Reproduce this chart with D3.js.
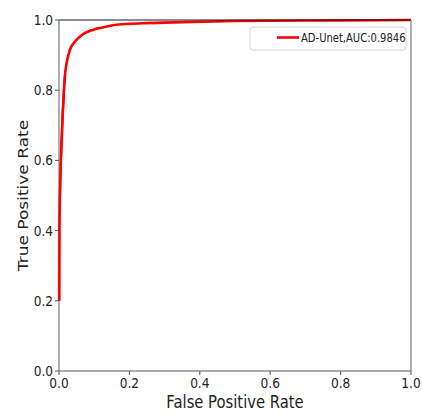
<!DOCTYPE html>
<html><head><meta charset="utf-8">
<script src="https://cdn.jsdelivr.net/npm/d3@7"></script>
<style>body{margin:0;background:#fff}svg{display:block}text{font-family:"DejaVu Sans",sans-serif;fill:#222}</style>
</head><body><svg id="c" width="422" height="417"></svg>
<script>
const fpr = [0, 0.0005, 0.001, 0.002, 0.003, 0.006, 0.01, 0.014, 0.017, 0.022, 0.031, 0.045, 0.06, 0.074, 0.09, 0.102, 0.12, 0.153, 0.2, 0.25, 0.35, 0.5, 0.6, 0.8, 1.0];
const tpr = [0, 0.2, 0.4, 0.47, 0.52, 0.62, 0.72, 0.80, 0.843, 0.88, 0.915, 0.938, 0.953, 0.963, 0.97, 0.974, 0.978, 0.985, 0.989, 0.991, 0.994, 0.997, 0.998, 0.999, 1.0];
const xTicks = [0, 0.2, 0.4, 0.6, 0.8, 1.0];
const yTicks = [0, 0.2, 0.4, 0.6, 0.8, 1.0];
const seriesName = "AD-Unet,AUC:0.9846";
const xTitle = "False Positive Rate", yTitle = "True Positive Rate";

const L = 59, R = 411, T = 20, B = 371, SX = 0.87;
const svg = d3.select("#c");
const x = d3.scaleLinear().domain([0, 1]).range([L, R]);
const y = d3.scaleLinear().domain([0, 1]).range([B, T]);
const pts = fpr.map((f, i) => [f, tpr[i]]).filter(d => d[1] > 0.05 || d[0] > 0);
const dpts = fpr.map((f, i) => [f, tpr[i]]).slice(1);

// curve
svg.append("path").datum(dpts)
  .attr("fill", "none").attr("stroke", "#ff0000").attr("stroke-width", 2.6)
  .attr("stroke-linejoin", "round")
  .attr("d", d3.line().x(d => x(d[0])).y(d => y(d[1])).curve(d3.curveMonotoneX));

// spines
const spine = "#8c8c8c";
svg.append("line").attr("x1", L).attr("x2", R).attr("y1", T).attr("y2", T).attr("stroke", "#1a1a1a").attr("stroke-width", 1.2);
svg.append("line").attr("x1", L).attr("x2", L).attr("y1", T).attr("y2", B).attr("stroke", spine).attr("stroke-width", 1.4);
svg.append("line").attr("x1", L).attr("x2", R).attr("y1", B).attr("y2", B).attr("stroke", spine).attr("stroke-width", 1.4);
svg.append("line").attr("x1", R).attr("x2", R).attr("y1", T).attr("y2", B).attr("stroke", spine).attr("stroke-width", 1.4);
// redraw curve's vertical part on top of left spine
svg.append("path").datum(dpts.slice(0, 8))
  .attr("fill", "none").attr("stroke", "#ff0000").attr("stroke-width", 2.2)
  .attr("d", d3.line().x(d => x(d[0])).y(d => y(d[1])).curve(d3.curveMonotoneX));

// ticks
xTicks.forEach(t => {
  svg.append("line").attr("x1", x(t)).attr("x2", x(t)).attr("y1", B).attr("y2", B + 4).attr("stroke", "#555").attr("stroke-width", 1);
  svg.append("text").attr("transform", `translate(${x(t)},${B + 17}) scale(${SX},1)`)
    .attr("text-anchor", "middle").attr("font-size", 14).text(d3.format(".1f")(t));
});
yTicks.forEach(t => {
  svg.append("line").attr("x1", L - 4).attr("x2", L).attr("y1", y(t)).attr("y2", y(t)).attr("stroke", "#555").attr("stroke-width", 1);
  svg.append("text").attr("transform", `translate(${L - 6},${y(t) + 5}) scale(${SX},1)`)
    .attr("text-anchor", "end").attr("font-size", 14).text(d3.format(".1f")(t));
});

// axis titles
svg.append("text").attr("transform", `translate(${(L + R) / 2},${408}) scale(${SX},1)`)
  .attr("text-anchor", "middle").attr("font-size", 17).text(xTitle);
svg.append("text").attr("transform", `translate(${28},${(T + B) / 2}) rotate(-90) scale(1,${SX})`)
  .attr("text-anchor", "middle").attr("font-size", 17).text(yTitle);

// legend
svg.append("rect").attr("x", 250).attr("y", 27).attr("width", 156).attr("height", 23).attr("rx", 3)
  .attr("fill", "#fff").attr("stroke", "#d8d8d8").attr("stroke-width", 1);
svg.append("line").attr("x1", 277).attr("x2", 299).attr("y1", 37.5).attr("y2", 37.5).attr("stroke", "#ff0000").attr("stroke-width", 2.6);
svg.append("text").attr("transform", `translate(301,42) scale(${SX},1)`).attr("font-size", 11.5).text(seriesName);
</script></body></html>
